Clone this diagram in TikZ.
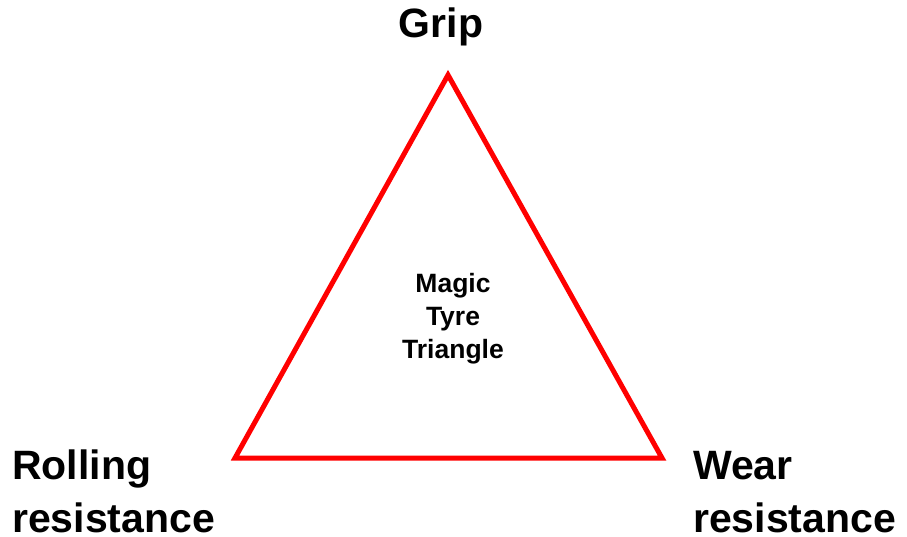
\documentclass[tikz,border=0pt]{standalone}
\usepackage{fontspec}
\setmainfont{Liberation Sans}
\tikzset{
  biglabel/.style={font=\fontsize{41}{41}\selectfont\bfseries, inner sep=0pt},
  midlabel/.style={font=\fontsize{26.5}{26.5}\selectfont\bfseries, inner sep=0pt},
  tri/.style={draw={rgb,255:red,255;green,0;blue,0}, line width=5pt, miter limit=10}
}
\begin{document}
\begin{tikzpicture}[x=1pt,y=-1pt]
\useasboundingbox (0,0) rectangle (907,536);
\coordinate (A) at (448,75);
\coordinate (B) at (235,458);
\coordinate (C) at (662,458);
\draw[tri] (A) -- (B) -- (C) -- cycle;
\node[biglabel, anchor=base] (grip) at (441,37) {Grip};
\node[biglabel, anchor=base west] (roll1) at (12,479) {Rolling};
\node[biglabel, anchor=base west] (roll2) at (12,532) {resistance};
\node[biglabel, anchor=base west] (wear1) at (693,479) {Wear};
\node[biglabel, anchor=base west] (wear2) at (693,532) {resistance};
\node[midlabel, anchor=base] (m1) at (453,292) {Magic};
\node[midlabel, anchor=base] (m2) at (453,325) {Tyre};
\node[midlabel, anchor=base] (m3) at (453,358) {Triangle};
\end{tikzpicture}
\end{document}
